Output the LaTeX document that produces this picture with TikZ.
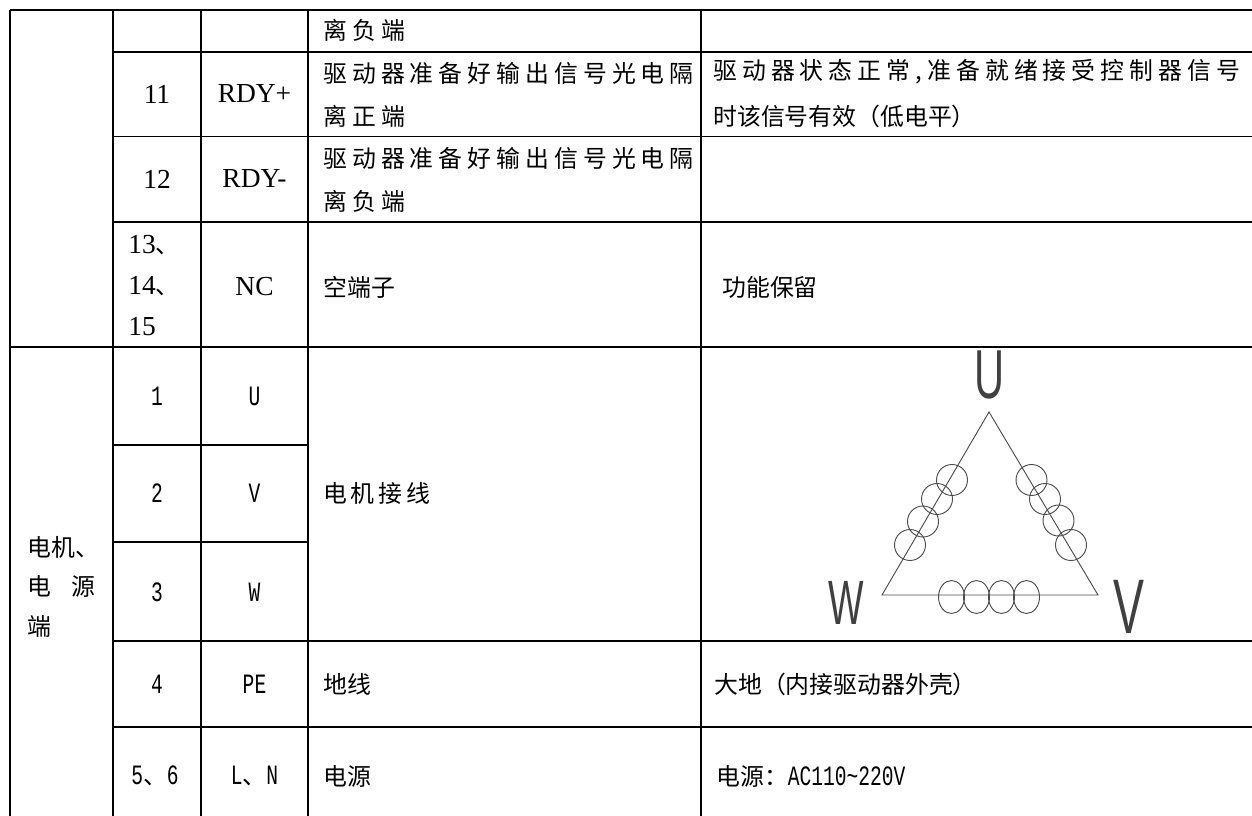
\documentclass[tikz,border=0pt]{standalone}
\usepackage{fontspec}
\setmainfont{Liberation Serif}
\newfontfamily\cjk{Noto Sans CJK SC}
\newfontfamily\cjkwide{Noto Sans CJK SC}[LetterSpace=21]
\newfontfamily\cjkmid{Noto Sans CJK SC}[LetterSpace=16]
\newfontfamily\monofam{Liberation Mono}[FakeStretch=0.7]
\newfontfamily\lblfam{Liberation Sans}[FakeStretch=0.6]
\newcommand\cjksz{\fontsize{17.9}{21}\selectfont}
\newcommand\monosz{\fontsize{21}{24}\selectfont}
\newcommand\cjkdun{{\cjk\cjksz 、}}
\begin{document}
\begin{tikzpicture}[x=0.75pt,y=-0.75pt,
  grid/.style={line width=1pt,black},
  cj/.style={inner sep=0pt,anchor=west,font=\cjk\cjksz},
  cjw/.style={cj,font=\cjkwide\cjksz},
  cjm/.style={cj,font=\cjkmid\cjksz},
  tn/.style={inner sep=0pt,font=\fontsize{20.6}{24}\selectfont},
  mn/.style={inner sep=0pt,font=\monofam\monosz},
  lbl/.style={inner sep=0pt,text=black!75,font=\lblfam},
  wire/.style={line width=0.7pt,draw=black!70},
  coil/.style={line width=0.7pt,draw=black!70}]
\useasboundingbox (0,0) rectangle (1252,816);
\clip (0,0) rectangle (1252,816);
\fill[white] (0,0) rectangle (1252,816);

% grid: horizontal lines
\draw[grid] (10,10) -- (1260,10);
\draw[grid] (113,52) -- (1260,52);
\draw[grid] (113,136.5) -- (1260,136.5);
\draw[grid] (113,222) -- (1260,222);
\draw[grid] (10,347) -- (1260,347);
\draw[grid] (113,445) -- (308,445);
\draw[grid] (113,542) -- (308,542);
\draw[grid] (113,641) -- (1260,641);
\draw[grid] (113,727) -- (1260,727);
% grid: vertical lines
\foreach \xx in {10,113,201,308,701}
  \draw[grid] (\xx,10) -- (\xx,830);

% row 1
\node[cjw] (r1d) at (323,30) {离负端};
% row 2
\node[tn] (r2n) at (157,94) {11};
\node[tn] (r2s) at (254.5,94) {RDY+};
\node[cjw] (r2d1) at (323,73) {驱动器准备好输出信号光电隔};
\node[cjw] (r2d2) at (323,116) {离正端};
\node[cjw] (r2f1) at (713,72) {驱动器状态正常,\hspace{4pt}准备就绪接受控制器信号};
\node[cj] (r2f2) at (713,116) {时该信号有效（低电平）};
% row 3
\node[tn] (r3n) at (157,179) {12};
\node[tn] (r3s) at (254.5,179) {RDY-};
\node[cjw] (r3d1) at (323,158) {驱动器准备好输出信号光电隔};
\node[cjw] (r3d2) at (323,201) {离负端};
% row 4
\node[tn,anchor=west] (r4n1) at (128,245) {13\cjkdun};
\node[tn,anchor=west] (r4n2) at (128,286) {14\cjkdun};
\node[tn,anchor=west] (r4n3) at (128,327) {15};
\node[tn] (r4s) at (254.5,287) {NC};
\node[cj] (r4d) at (323,287) {空端子};
\node[cj] (r4f) at (722,287) {功能保留};
% motor / power section
\node[cj] (g1) at (27,547) {电机、};
\node[cj] (g2) at (27,586) {电\hspace{15pt}源};
\node[cj] (g3) at (27,626) {端};
\node[mn] (r5n) at (157,396) {1};
\node[mn] (r5s) at (254.5,396) {U};
\node[mn] (r6n) at (157,493) {2};
\node[mn] (r6s) at (254.5,493) {V};
\node[cjm] (r5d) at (323,493) {电机接线};
\node[mn] (r7n) at (157,592) {3};
\node[mn] (r7s) at (254.5,592) {W};
\node[mn] (r8n) at (157,684) {4};
\node[mn] (r8s) at (254.5,684) {PE};
\node[cj] (r8d) at (323,684) {地线};
\node[cj] (r8f) at (714,684) {大地（内接驱动器外壳）};
\node[mn] (r9n) at (155,776) {5\cjkdun6};
\node[mn] (r9s) at (254.5,776) {L\cjkdun N};
\node[cj] (r9d) at (323,776) {电源};
\node[cj] (r9f) at (716,776) {电源：{\monofam\monosz AC110\textasciitilde220V}};

% delta winding figure
\coordinate (tu) at (989,412);
\coordinate (tw) at (882,595);
\coordinate (tv) at (1098,595);
\draw[wire] (tu) -- (tw) -- (tv) -- cycle;
\foreach \cx/\cy in {952/480,937/499,923/521.5,910/545}
  \draw[coil] (\cx,\cy) ellipse[x radius=15.5,y radius=15.5];
\foreach \cx/\cy in {1031.5/480,1045/499,1058.5/520.5,1071/545}
  \draw[coil] (\cx,\cy) ellipse[x radius=15.5,y radius=15.5];
\foreach \cx in {951.5,976.5,1001.5,1026.5}
  \draw[coil] (\cx,597) ellipse[x radius=13,y radius=16.5];
\node[lbl,font=\lblfam\fontsize{52}{60}\selectfont] (lu) at (990,375) {U};
\node[lbl,font=\lblfam\fontsize{47}{54}\selectfont] (lw) at (846,603) {W};
\node[lbl,font=\lblfam\fontsize{58}{66}\selectfont] (lv) at (1129,607) {V};
\end{tikzpicture}
\end{document}
